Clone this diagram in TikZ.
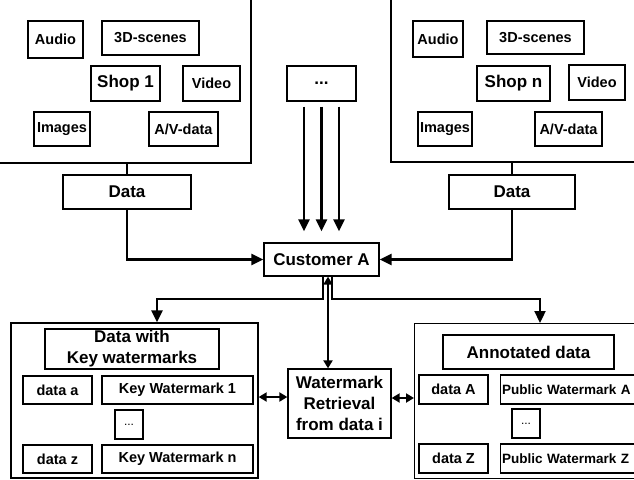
\documentclass[tikz,border=0pt]{standalone}
\usepackage{fontspec}
\setmainfont{Liberation Sans}
\usetikzlibrary{arrows.meta,calc}
\newcommand\smf{\fontsize{14.5}{17}\selectfont\bfseries}
\newcommand\lgf{\fontsize{17}{21}\selectfont\bfseries}
\tikzset{
  bx/.style 2 args={draw, line width=1.3pt, inner sep=0pt, font=\smf, minimum width=#1pt, minimum height=#2pt},
  lbx/.style 2 args={bx={#1}{#2}, font=\lgf},
  pwbx/.style={bx={0}{29}, anchor=west, text width=166pt, align=left, inner xsep=1.5pt, font=\fontsize{13.5}{17}\selectfont\bfseries},
  frm/.style={line width=1.4pt},
  arr/.style={line width=2.3pt, -{Triangle[length=12pt,width=11pt]}},
  dbl/.style={line width=2.3pt, {Triangle[length=8pt,width=9pt]}-{Triangle[length=8pt,width=9pt]}},
  stub/.style={line width=2.3pt}
}
\begin{document}
\begin{tikzpicture}[x=1pt,y=-1pt]
\useasboundingbox (0,0) rectangle (634,479);
\clip (0,0) rectangle (634,479);
% top-left shop frame
\coordinate (fl) at (127,163);
\draw[frm] (0,163) -- (251,163) -- (251,0);
\node[bx={55}{37}] (audio1) at (55.5,39.5) {Audio};
\node[bx={97}{34}] (threed1) at (150.5,38) {3D-scenes};
\node[lbx={69}{35}] (shop1) at (125.5,83.5) {Shop 1};
\node[bx={57}{35}] (video1) at (211.5,83.5) {Video};
\node[bx={56}{34}] (images1) at (62,129) {Images};
\node[bx={69}{34}] (av1) at (183.5,129) {A/V-data};
% top-right shop frame
\coordinate (fr) at (512,162);
\draw[frm] (634,162) -- (391,162) -- (391,0);
\node[bx={50}{36}] (audio2) at (438,39) {Audio};
\node[bx={97}{33}] (threed2) at (535.5,37.5) {3D-scenes};
\node[lbx={73}{35}] (shopn) at (513.5,83.5) {Shop n};
\node[bx={56}{35}] (video2) at (597,82.5) {Video};
\node[bx={54}{34}] (images2) at (445,129) {Images};
\node[bx={67}{34}] (av2) at (568.5,129) {A/V-data};
% middle
\node[lbx={69}{35}] (dots) at (321.5,83.5) {...};
\node[lbx={128}{34}] (data1) at (127,192) {Data};
\node[lbx={126}{34}] (data2) at (512,192) {Data};
\node[lbx={115}{33}] (cust) at (321.5,259.5) {Customer A};
\draw[stub] (fl) -- (data1.north);
\draw[stub] (fr) -- (data2.north);
\draw[arr] (data1.south) |- (cust.west);
\draw[arr] (data2.south) |- (cust.east);
\foreach \dx in {-17.5,0,17.5}
  \draw[arr] ($(dots.south)+(\dx,5)$) -- ($(cust.north)+(\dx,-11)$);
% bottom left
\node[bx={247}{155}] (lb) at (134.5,400.5) {};
\node[lbx={174}{40}, align=center] (dwk) at (132,349) {Data with\\Key watermarks};
\node[bx={69}{28}] (dataa) at (57.5,390) {data a};
\node[bx={151}{28}] (kw1) at (177.5,390) {Key Watermark 1};
\node[bx={28}{29}, font=\fontsize{12}{14}\selectfont] (ldots) at (129,424.5) {...};
\node[bx={69}{28}] (dataz) at (57.5,459) {data z};
\node[bx={151}{28}] (kwn) at (177.5,459) {Key Watermark n};
% watermark retrieval
\node[lbx={103}{69}, align=center] (wr) at (339.5,403.5) {Watermark\\Retrieval\\from data i};
% bottom right
\node[bx={250}{155}, anchor=north west] (rb) at (414,323) {};
\node[lbx={171}{34}] (annot) at (528.5,352) {Annotated data};
\node[bx={69}{29}] (dataA) at (453.5,389.5) {data A};
\node[pwbx] (pwA) at (500,389.5) {Public Watermark A};
\node[bx={28}{29}, font=\fontsize{12}{14}\selectfont] (rdots) at (526,423.5) {...};
\node[bx={69}{29}] (dataZ) at (453.5,458.5) {data Z};
\node[pwbx] (pwZ) at (500,458.5) {Public Watermark Z};
% connectors below customer
\coordinate (bl) at (157,299);
\coordinate (br) at (540,299);
\coordinate (m) at ($(cust.south)+(6.5,0)$);
\draw[arr] ([xshift=1.5pt]cust.south) |- (bl) -- (bl |- lb.north);
\draw[arr] ([xshift=10.5pt]cust.south) |- (br) -- (br |- rb.north);
\draw[dbl] (m) -- (m |- wr.north);
\draw[dbl] (lb.east |- 0,397) -- (wr.west |- 0,397);
\draw[dbl] (wr.east |- 0,398) -- (rb.west |- 0,398);
\end{tikzpicture}
\end{document}
